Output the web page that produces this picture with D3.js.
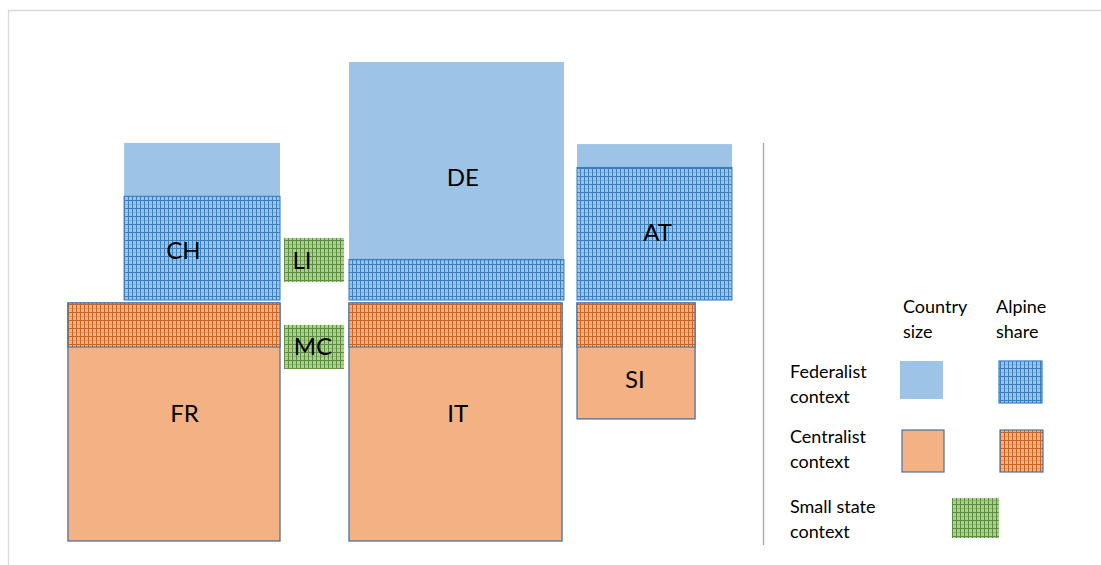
<!DOCTYPE html>
<html>
<head>
<meta charset="utf-8">
<script src="https://cdn.jsdelivr.net/npm/d3@7/dist/d3.min.js"></script>
<style>
  html, body { margin: 0; padding: 0; background: #ffffff; }
  svg { display: block; font-family: Lato, "Open Sans", sans-serif; }
</style>
</head>
<body>
<svg id="chart" width="1101" height="565"></svg>
<script>
// Alpine states: relative country size (box sides, index: largest = 100)
// and the share of each country that lies in the Alps.
const countries   = ["CH", "DE", "AT", "LI", "MC", "FR", "IT", "SI"];
const contexts    = ["federal", "federal", "federal", "small", "small", "central", "central", "central"];
const sizeWidth   = [65.5, 90.3, 65.1, 25.2, 25.2, 89.1, 89.5, 49.6];
const sizeHeight  = [66.0, 100, 65.5, 18.5, 18.5, 100, 100, 48.7];
const alpineShare = [0.66, 0.17, 0.85, 1.00, 1.00, 0.185, 0.185, 0.38];

// Legend texts
const legendColumns = [["Country", "size"], ["Alpine", "share"]];
const legendRows = [["Federalist", "context"], ["Centralist", "context"], ["Small state", "context"]];

const svg = d3.select("#chart");

const colors = {
  federal: { base: "#9dc3e6", dark: "#3a7fc1", mid: "#7fb1df", stroke: null, hatchStroke: "#3b7fc2" },
  central: { base: "#f4b183", dark: "#cc6320", mid: "#e69a62", stroke: "#4a72a0", hatchStroke: "#4a72a0" },
  small:   { base: "#a9d18e", dark: "#5e8c40", mid: "#8dba72", stroke: null, hatchStroke: null }
};

// grid hatch patterns for the alpine share
const defs = svg.append("defs");
Object.entries(colors).forEach(([key, c]) => {
  const p = defs.append("pattern")
    .attr("id", "hatch-" + key)
    .attr("patternUnits", "userSpaceOnUse")
    .attr("x", 0).attr("y", 0)
    .attr("width", 8).attr("height", 8);
  p.append("rect").attr("width", 8).attr("height", 8).attr("fill", c.base);
  p.append("rect").attr("x", 0).attr("y", 4).attr("width", 8).attr("height", 1).attr("fill", c.mid);
  p.append("rect").attr("x", 4).attr("y", 0).attr("width", 1).attr("height", 8).attr("fill", c.dark);
  p.append("rect").attr("x", 0).attr("y", 0).attr("width", 8).attr("height", 1).attr("fill", c.dark);
  p.append("rect").attr("x", 0).attr("y", 0).attr("width", 1).attr("height", 8).attr("fill", c.dark);
});

// chart area frame
svg.append("path")
  .attr("d", "M8.5,565V10.5H1101")
  .attr("fill", "none")
  .attr("stroke", "#d9d9d9")
  .attr("stroke-width", 1.3);

// size units -> pixels
const k = d3.scaleLinear().domain([0, 100]).range([0, 238]);
const originX = 280;   // right edge of the first column
const baseline = 300;  // boundary between northern and southern rows

// layout: column and row of each country
const column = { CH: 0, FR: 0, LI: 1, MC: 1, DE: 2, IT: 2, AT: 3, SI: 3 };
const row    = { CH: "north", DE: "north", AT: "north", LI: "north", FR: "south", IT: "south", SI: "south", MC: "south" };
const colGap = [1.7, 2.1, 5.5];
const rowGap = 1.26;
const smallOffset = { LI: 7.6, MC: 9.2 };

// column left edges in size units
const colWidth = [0, 1, 2, 3].map(ci =>
  d3.max(countries.filter(c => column[c] === ci), c => sizeWidth[countries.indexOf(c)]));
const colLeft = [ -colWidth[0] ];
for (let i = 1; i < 4; i++) colLeft[i] = (i === 1 ? 0 : colLeft[i - 1] + colWidth[i - 1]) + colGap[i - 1];

// label placement inside each box (fraction of width, fraction of height for baseline)
const labelPos = {
  CH: [0.38, 0.74], DE: [0.53, 0.52], AT: [0.52, 0.62], LI: [0.30, 0.70],
  MC: [0.48, 0.68], FR: [0.55, 0.50], IT: [0.51, 0.50], SI: [0.49, 0.73]
};

const boxes = countries.map((name, i) => {
  const w = k(sizeWidth[i]), h = k(sizeHeight[i]);
  const ci = column[name];
  const x = ci === 0 ? originX - w : originX + k(colLeft[ci]);
  let y;
  if (row[name] === "north") {
    y = baseline - h - (smallOffset[name] ? k(smallOffset[name]) : 0);
  } else {
    y = baseline + k(rowGap) + (smallOffset[name] ? k(smallOffset[name]) : 0);
  }
  return { name, context: contexts[i], x, y, w, h, share: alpineShare[i] };
});

const g = svg.append("g");

boxes.forEach(b => {
  const c = colors[b.context];
  if (b.context !== "small") {
    g.append("rect")
      .attr("x", b.x).attr("y", b.y).attr("width", b.w).attr("height", b.h)
      .attr("fill", c.base)
      .attr("stroke", c.stroke || "none")
      .attr("stroke-width", 1.3);
  }
  const hh = b.h * b.share;
  // federalist: alpine share sits at the bottom of the box; centralist: at the top
  const hy = b.context === "federal" ? b.y + b.h - hh : b.y;
  g.append("rect")
    .attr("x", b.x).attr("y", hy).attr("width", b.w).attr("height", hh)
    .attr("fill", "url(#hatch-" + b.context + ")")
    .attr("stroke", c.hatchStroke || "none")
    .attr("stroke-width", 1.1);
  const lp = labelPos[b.name];
  g.append("text")
    .attr("x", b.x + b.w * lp[0])
    .attr("y", b.y + b.h * lp[1])
    .attr("text-anchor", "middle")
    .attr("font-size", 24)
    .attr("fill", "#000")
    .text(b.name);
});

// separator between chart and legend
svg.append("line")
  .attr("x1", 763.5).attr("x2", 763.5)
  .attr("y1", 143).attr("y2", 545)
  .attr("stroke", "#a6a6a6")
  .attr("stroke-width", 1.3);

// legend
const lg = svg.append("g").attr("font-size", 18).attr("fill", "#000");
const colX = [903, 996];
legendColumns.forEach((lines, i) => {
  lines.forEach((t, j) => lg.append("text").attr("x", colX[i]).attr("y", 313 + j * 25).text(t));
});
const rowY = [378, 443, 513];
legendRows.forEach((lines, i) => {
  lines.forEach((t, j) => lg.append("text").attr("x", 790).attr("y", rowY[i] + j * 25).text(t));
});

const swatches = [
  { x: 900, y: 361, w: 43, h: 38, fill: colors.federal.base, stroke: null },
  { x: 999, y: 361, w: 43, h: 42, fill: "url(#hatch-federal)", stroke: colors.federal.hatchStroke },
  { x: 902, y: 430, w: 42, h: 42, fill: colors.central.base, stroke: colors.central.stroke },
  { x: 1000, y: 430, w: 43, h: 42, fill: "url(#hatch-central)", stroke: colors.central.hatchStroke },
  { x: 952, y: 498, w: 47, h: 40, fill: "url(#hatch-small)", stroke: null }
];
lg.selectAll("rect.sw").data(swatches).join("rect")
  .attr("class", "sw")
  .attr("x", d => d.x).attr("y", d => d.y)
  .attr("width", d => d.w).attr("height", d => d.h)
  .attr("fill", d => d.fill)
  .attr("stroke", d => d.stroke || "none")
  .attr("stroke-width", 1.2);
</script>
</body>
</html>
